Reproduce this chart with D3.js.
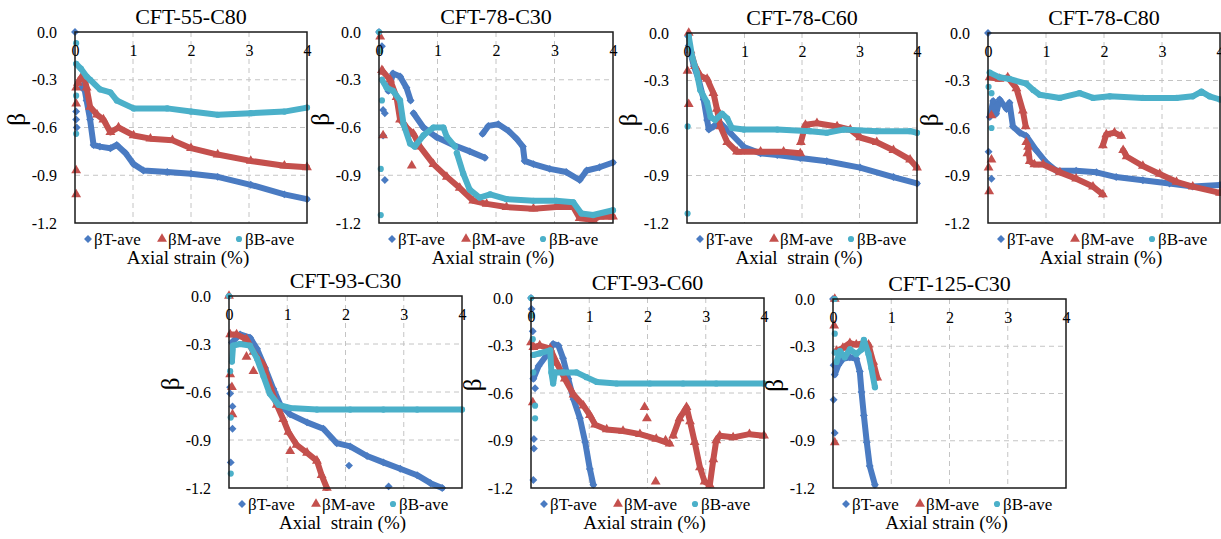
<!DOCTYPE html>
<html>
<head>
<meta charset="utf-8">
<script src="https://cdn.jsdelivr.net/npm/d3@7"></script>
</head>
<body style="margin:0">
<svg id="chart" width="1221" height="539"></svg>
<script>
// Axis ticks and legend labels shared by every panel
const xTicks = [0, 1, 2, 3, 4];
const yTicks = [0, -0.3, -0.6, -0.9, -1.2];
const seriesNames = ["βT-ave", "βM-ave", "βB-ave"];
const titles = ["CFT-55-C80", "CFT-78-C30", "CFT-78-C60", "CFT-78-C80", "CFT-93-C30", "CFT-93-C60", "CFT-125-C30"];
const xTitles = ["Axial strain (%)", "Axial strain (%)", "Axial  strain (%)", "Axial strain (%)", "Axial  strain (%)", "Axial strain (%)", "Axial strain (%)"];

// ---- CFT-55-C80 : [axial strain %, beta]; traces are dense runs, pts are isolated readings
const c55c80_T = [[[0.12,-0.35],[0.15,-0.33],[0.2,-0.43],[0.26,-0.55],[0.32,-0.71],[0.43,-0.72],[0.61,-0.73],[0.72,-0.71],[0.87,-0.76],[1.01,-0.83],[1.18,-0.87],[1.59,-0.88],[2.0,-0.89],[2.46,-0.91],[3.03,-0.96],[3.61,-1.02],[4.0,-1.05]]];
const c55c80_Tpts = [[0,0],[0.02,-0.5],[0.02,-0.55],[0.03,-0.6]];
const c55c80_M = [[[0.05,-0.32],[0.1,-0.29],[0.15,-0.27],[0.2,-0.35],[0.26,-0.47],[0.38,-0.52],[0.49,-0.55],[0.61,-0.63],[0.75,-0.6],[1.01,-0.65],[1.3,-0.67],[1.68,-0.68],[2.0,-0.73],[2.46,-0.77],[3.03,-0.81],[3.61,-0.84],[4.0,-0.85]]];
const c55c80_Mpts = [[0.02,-0.35],[0.02,-0.45],[0.02,-0.87],[0.02,-1.02]];
const c55c80_B = [[[0.02,-0.2],[0.1,-0.23],[0.2,-0.28],[0.26,-0.3],[0.43,-0.36],[0.61,-0.38],[0.72,-0.43],[1.01,-0.48],[1.59,-0.48],[2.0,-0.5],[2.46,-0.52],[3.03,-0.51],[3.61,-0.5],[4.0,-0.475]]];
const c55c80_Bpts = [[0.02,-0.07],[0.02,-0.4],[0.02,-0.64]];

// ---- CFT-78-C30
const c78c30_T = [
  [[0.16,-0.37],[0.24,-0.26],[0.36,-0.28],[0.47,-0.35],[0.54,-0.43]],
  [[0.59,-0.51],[0.76,-0.6],[0.98,-0.66],[1.27,-0.71],[1.55,-0.75],[1.81,-0.79]],
  [[1.77,-0.64],[1.87,-0.59],[2.04,-0.58],[2.21,-0.62],[2.35,-0.67],[2.46,-0.72],[2.49,-0.81],[2.64,-0.83],[2.92,-0.86],[3.2,-0.88],[3.43,-0.93],[3.55,-0.87],[3.77,-0.85],[4.0,-0.82]]];
const c78c30_Tpts = [[0,0],[0.05,-0.09],[0.07,-0.49],[0.1,-0.51],[0.07,-0.65],[0.1,-0.93]];
const c78c30_M = [[[0.07,-0.25],[0.19,-0.3],[0.3,-0.41],[0.36,-0.55],[0.47,-0.6],[0.59,-0.64],[0.7,-0.72],[0.93,-0.83],[1.16,-0.91],[1.38,-0.98],[1.61,-1.06],[1.84,-1.08],[2.18,-1.1],[2.64,-1.11],[3.03,-1.1],[3.32,-1.1],[3.43,-1.17],[3.66,-1.18],[3.77,-1.16],[4.0,-1.16]]];
const c78c30_Mpts = [[0.02,-0.03],[0.05,-0.24],[0.07,-0.65],[0.56,-0.84]];
const c78c30_B = [
  [[0.05,-0.3],[0.13,-0.35],[0.24,-0.37],[0.36,-0.43],[0.42,-0.58],[0.53,-0.7],[0.61,-0.72],[0.76,-0.65],[0.93,-0.6],[1.1,-0.6],[1.16,-0.66],[1.3,-0.72]],
  [[1.33,-0.76],[1.44,-0.89],[1.55,-0.99],[1.72,-1.04],[1.9,-1.02],[2.18,-1.05],[2.64,-1.06],[3.03,-1.06],[3.32,-1.07],[3.46,-1.14],[3.66,-1.15],[4.0,-1.12]]];
const c78c30_Bpts = [[0,0],[0.02,-0.12],[0.05,-0.43],[0.03,-0.86],[0.03,-1.15]];

// ---- CFT-78-C60
const c78c60_T = [[[0.03,-0.08],[0.12,-0.21],[0.2,-0.29],[0.29,-0.42],[0.35,-0.55],[0.38,-0.61],[0.46,-0.59],[0.58,-0.57],[0.75,-0.63],[0.99,-0.72],[1.28,-0.76],[1.57,-0.77],[1.97,-0.79],[2.43,-0.81],[3.01,-0.85],[3.59,-0.91],[4.0,-0.95]]];
const c78c60_Tpts = [[0.02,-0.02]];
const c78c60_M = [
  [[0.06,-0.11],[0.14,-0.21],[0.23,-0.27],[0.35,-0.29],[0.46,-0.38],[0.52,-0.48],[0.58,-0.59],[0.7,-0.69],[0.87,-0.75],[1.28,-0.75],[1.68,-0.75],[1.97,-0.76]],
  [[1.98,-0.69],[2.06,-0.58],[2.26,-0.57],[2.61,-0.59],[2.84,-0.61],[3.01,-0.66],[3.3,-0.69],[3.59,-0.74],[3.88,-0.8],[4.0,-0.85]]];
const c78c60_Mpts = [[0.03,0],[0.01,-0.24],[0.03,-0.45]];
const c78c60_B = [[[0.03,-0.02],[0.09,-0.15],[0.17,-0.25],[0.23,-0.36],[0.35,-0.44],[0.41,-0.53],[0.49,-0.55],[0.61,-0.51],[0.7,-0.54],[0.78,-0.6],[0.99,-0.61],[1.57,-0.61],[2.14,-0.62],[2.43,-0.63],[2.72,-0.61],[3.3,-0.62],[3.88,-0.62],[4.0,-0.63]]];
const c78c60_Bpts = [[0.01,-0.59],[0.01,-1.14]];

// ---- CFT-78-C80
const c78c80_T = [[[0.03,-0.53],[0.09,-0.43],[0.14,-0.51],[0.2,-0.42],[0.32,-0.48],[0.37,-0.44],[0.43,-0.59],[0.55,-0.63],[0.66,-0.65],[0.83,-0.74],[1.01,-0.82],[1.18,-0.87],[1.52,-0.87],[1.87,-0.88],[2.21,-0.91],[2.67,-0.93],[3.13,-0.95],[3.53,-0.97],[4.0,-0.96]]];
const c78c80_Tpts = [[0,0],[0.01,-0.75],[0.06,-0.92]];
const c78c80_M = [
  [[0.03,-0.28],[0.2,-0.29],[0.34,-0.28],[0.49,-0.35],[0.6,-0.49],[0.65,-0.59]],
  [[0.69,-0.72],[0.72,-0.81],[0.8,-0.83],[0.95,-0.83],[1.24,-0.88],[1.52,-0.92],[1.81,-0.97],[1.98,-1.02]],
  [[1.98,-0.71],[2.04,-0.64],[2.18,-0.63],[2.3,-0.65]],
  [[2.33,-0.74],[2.39,-0.78],[2.67,-0.84],[2.96,-0.89],[3.25,-0.94],[3.53,-0.97],[4.0,-1.01]]];
const c78c80_Mpts = [[0.01,-0.85],[0.02,-1.0],[0.06,-0.8],[0.06,-0.52],[0.66,-0.69],[0.68,-0.76]];
const c78c80_B = [[[0.03,-0.25],[0.2,-0.28],[0.37,-0.29],[0.66,-0.32],[0.78,-0.36],[0.89,-0.39],[1.24,-0.41],[1.58,-0.38],[1.81,-0.41],[2.1,-0.4],[2.67,-0.41],[3.25,-0.41],[3.53,-0.4],[3.68,-0.37],[3.82,-0.4],[4.0,-0.42]]];
const c78c80_Bpts = [[0.01,-0.34],[0.06,-0.38],[0.06,-0.6]];

// ---- CFT-93-C30
const c93c30_T = [[[0.05,-0.29],[0.19,-0.24],[0.36,-0.26],[0.48,-0.33],[0.62,-0.45],[0.76,-0.58],[0.88,-0.68],[1.05,-0.74],[1.34,-0.79],[1.62,-0.83],[1.85,-0.92],[2.08,-0.94],[2.37,-1.0],[2.65,-1.04],[2.94,-1.08],[3.23,-1.12],[3.46,-1.17],[3.66,-1.2]]];
const c93c30_Tpts = [[0,0],[0.02,-0.57],[0.02,-0.61],[0.06,-0.69],[0.06,-0.83],[0.03,-1.04],[2.06,-1.06],[2.74,-1.19]];
const c93c30_M = [[[0.02,-0.24],[0.13,-0.24],[0.3,-0.27],[0.42,-0.35],[0.59,-0.43],[0.7,-0.56],[0.82,-0.68],[0.93,-0.77],[1.02,-0.85],[1.16,-0.93],[1.34,-0.98],[1.51,-1.03],[1.59,-1.12],[1.68,-1.2]]];
const c93c30_Mpts = [[0,0],[0.02,-0.49],[0.05,-0.57],[0.06,-0.74],[0.3,-0.38],[0.42,-0.47],[1.05,-0.97]];
const c93c30_B = [[[0.05,-0.41],[0.07,-0.31],[0.19,-0.3],[0.36,-0.31],[0.48,-0.39],[0.59,-0.5],[0.7,-0.61],[0.85,-0.68],[1.05,-0.7],[1.51,-0.71],[2.08,-0.71],[2.65,-0.71],[3.23,-0.71],[4.0,-0.71]]];
const c93c30_Bpts = [[0,0],[0.02,-0.47],[0.03,-0.76],[0.03,-1.11]];

// ---- CFT-93-C60
const c93c60_T = [[[0.04,-0.51],[0.13,-0.43],[0.27,-0.36],[0.38,-0.29],[0.47,-0.3],[0.55,-0.38],[0.64,-0.51],[0.73,-0.64],[0.84,-0.76],[0.93,-0.91],[1.01,-1.08],[1.07,-1.18]]];
const c93c60_Tpts = [[0,0],[0.01,-0.07],[0.03,-0.21],[0.07,-0.57],[0.05,-0.89],[0.05,-0.95],[0.04,-1.15]];
const c93c60_M = [
  [[0.04,-0.31],[0.15,-0.3],[0.33,-0.32],[0.44,-0.41],[0.58,-0.51],[0.73,-0.61],[0.9,-0.68],[1.01,-0.74],[1.1,-0.8],[1.3,-0.83],[1.58,-0.84],[1.87,-0.86],[2.15,-0.89],[2.38,-0.92]],
  [[2.44,-0.87],[2.55,-0.76],[2.67,-0.69],[2.73,-0.78],[2.81,-0.91],[2.9,-1.07],[2.98,-1.16],[3.07,-1.18],[3.13,-1.02],[3.18,-0.9],[3.24,-0.87],[3.47,-0.88],[3.75,-0.86],[4.0,-0.87]]];
const c93c60_Mpts = [[0.03,-0.66],[0,-0.28],[1.95,-0.69],[1.99,-0.76],[2.14,-1.16],[2.31,-0.9]];
const c93c60_B = [[[0.04,-0.36],[0.15,-0.35],[0.33,-0.33],[0.35,-0.47],[0.38,-0.54],[0.41,-0.47],[0.55,-0.47],[0.78,-0.47],[0.95,-0.5],[1.13,-0.53],[1.47,-0.54],[2.04,-0.54],[2.61,-0.54],[3.18,-0.54],[4.0,-0.54]]];
const c93c60_Bpts = [[0,0],[0.01,-0.11],[0.03,-0.26],[0.04,-0.47],[0.07,-0.68],[0.07,-0.76]];

// ---- CFT-125-C30
const c125c30_T = [[[0.03,-0.48],[0.09,-0.42],[0.17,-0.38],[0.29,-0.37],[0.4,-0.38],[0.46,-0.46],[0.49,-0.59],[0.53,-0.74],[0.58,-0.91],[0.63,-1.06],[0.72,-1.18]]];
const c125c30_Tpts = [[0,0],[0.01,-0.64],[0.03,-0.85],[0.01,-0.42]];
const c125c30_M = [[[0.06,-0.33],[0.17,-0.31],[0.29,-0.28],[0.4,-0.29],[0.52,-0.28],[0.61,-0.29],[0.69,-0.4],[0.76,-0.5]]];
const c125c30_Mpts = [[0.03,0],[0.02,-0.17],[0.03,-0.91]];
const c125c30_B = [[[0.06,-0.4],[0.12,-0.33],[0.2,-0.37],[0.29,-0.32],[0.4,-0.35],[0.49,-0.32],[0.53,-0.26],[0.61,-0.35],[0.66,-0.44],[0.72,-0.56]]];
const c125c30_Bpts = [[0.03,0],[0.03,-0.22],[0.03,-0.34]];

// Gather per-panel series (T, M, B)
const panelData = [
  [[c55c80_T, c55c80_Tpts], [c55c80_M, c55c80_Mpts], [c55c80_B, c55c80_Bpts]],
  [[c78c30_T, c78c30_Tpts], [c78c30_M, c78c30_Mpts], [c78c30_B, c78c30_Bpts]],
  [[c78c60_T, c78c60_Tpts], [c78c60_M, c78c60_Mpts], [c78c60_B, c78c60_Bpts]],
  [[c78c80_T, c78c80_Tpts], [c78c80_M, c78c80_Mpts], [c78c80_B, c78c80_Bpts]],
  [[c93c30_T, c93c30_Tpts], [c93c30_M, c93c30_Mpts], [c93c30_B, c93c30_Bpts]],
  [[c93c60_T, c93c60_Tpts], [c93c60_M, c93c60_Mpts], [c93c60_B, c93c60_Bpts]],
  [[c125c30_T, c125c30_Tpts], [c125c30_M, c125c30_Mpts], [c125c30_B, c125c30_Bpts]]
];

// Plot-area boxes (left, right, top, bottom) in pixels
const boxes = [
  [75, 307, 32, 223],
  [379, 613, 32, 223],
  [687, 917, 33, 223],
  [988, 1220, 33, 223],
  [229, 462, 296, 488],
  [531, 764, 298, 488],
  [833, 1066, 299, 488]
];

const FONT = '"Liberation Serif"';
const colors = ["#4a7bc2", "#c4504d", "#4bb0c9"];
const markerSym = [d3.symbolDiamond2 || d3.symbolDiamond, d3.symbolTriangle, d3.symbolCircle];
const markerSize = [40, 42, 30];

const svg = d3.select("#chart");

function styleText(sel, size) {
  return sel.style("font-family", FONT).style("font-size", size + "px").style("fill", "#000");
}

boxes.forEach((b, i) => {
  const [L, R, T, B] = b;
  const x = d3.scaleLinear().domain([0, 4]).range([L, R]);
  const y = d3.scaleLinear().domain([0, -1.2]).range([T, B]);
  const g = svg.append("g");

  // dashed gridlines
  g.selectAll(".gx").data(xTicks.filter(t => t > 0 && t < 4)).join("line")
    .attr("x1", d => x(d)).attr("x2", d => x(d)).attr("y1", T).attr("y2", B)
    .attr("stroke", "#c4c4c4").attr("stroke-width", 1).attr("stroke-dasharray", "5,4");
  g.selectAll(".gy").data(yTicks.filter(t => t < 0 && t > -1.2)).join("line")
    .attr("x1", L).attr("x2", R).attr("y1", d => y(d)).attr("y2", d => y(d))
    .attr("stroke", "#c4c4c4").attr("stroke-width", 1).attr("stroke-dasharray", "5,4");

  // series: thick traces for dense runs plus markers
  const line = d3.line().x(d => x(d[0])).y(d => y(d[1]));
  panelData[i].forEach((s, k) => {
    const [traces, pts] = s;
    traces.forEach(tr => {
      g.append("path").attr("d", line(tr)).attr("fill", "none")
        .attr("stroke", colors[k]).attr("stroke-width", 6)
        .attr("stroke-linejoin", "round").attr("stroke-linecap", "round");
    });
    const all = traces.flat().concat(pts);
    g.selectAll(null).data(all).join("path")
      .attr("d", d3.symbol().type(markerSym[k]).size(markerSize[k]))
      .attr("transform", d => `translate(${x(d[0])},${y(d[1])})`)
      .attr("fill", colors[k]);
  });

  // plot frame
  g.append("rect").attr("x", L).attr("y", T).attr("width", R - L).attr("height", B - T)
    .attr("fill", "none").attr("stroke", "#1a1a1a").attr("stroke-width", 1.5);

  // axes via d3 axis generators (tick marks hidden, labels kept)
  const xAxis = d3.axisBottom(x).tickValues(xTicks).tickFormat(d3.format("d")).tickSize(0).tickPadding(13);
  const xg = g.append("g").attr("transform", `translate(0,${T})`).call(xAxis);
  xg.attr("font-family", null).attr("font-size", null);
  xg.select(".domain").remove();
  styleText(xg.selectAll("text"), 16);

  const yAxis = d3.axisLeft(y).tickValues(yTicks).tickFormat(d => d3.format(".1f")(d).replace("−", "-")).tickSize(0).tickPadding(18);
  const yg = g.append("g").attr("transform", `translate(${L},0)`).call(yAxis);
  yg.attr("font-family", null).attr("font-size", null);
  yg.select(".domain").remove();
  styleText(yg.selectAll("text"), 16);

  // title
  styleText(g.append("text").attr("x", (L + R) / 2).attr("y", T - 8).attr("text-anchor", "middle"), 22)
    .text(titles[i]);

  // y label
  styleText(g.append("text").attr("transform", `translate(${L - 50},${(T + B) / 2 - 8}) rotate(-90)`)
    .attr("text-anchor", "middle"), 25).text("β");

  // legend
  const ly = B + 16;
  const lx = [L + 13, L + 87, L + 164];
  seriesNames.forEach((nm, k) => {
    g.append("path").attr("d", d3.symbol().type(markerSym[k]).size(markerSize[k]))
      .attr("transform", `translate(${lx[k]},${ly})`).attr("fill", colors[k]);
    styleText(g.append("text").attr("x", lx[k] + 6).attr("y", ly).attr("dy", "0.35em"), 17).text(nm);
  });

  // x title
  styleText(g.append("text").attr("x", (L + R) / 2 - 3).attr("y", B + 41).attr("text-anchor", "middle"), 19)
    .style("white-space", "pre").text(xTitles[i]);
});
</script>
</body>
</html>
